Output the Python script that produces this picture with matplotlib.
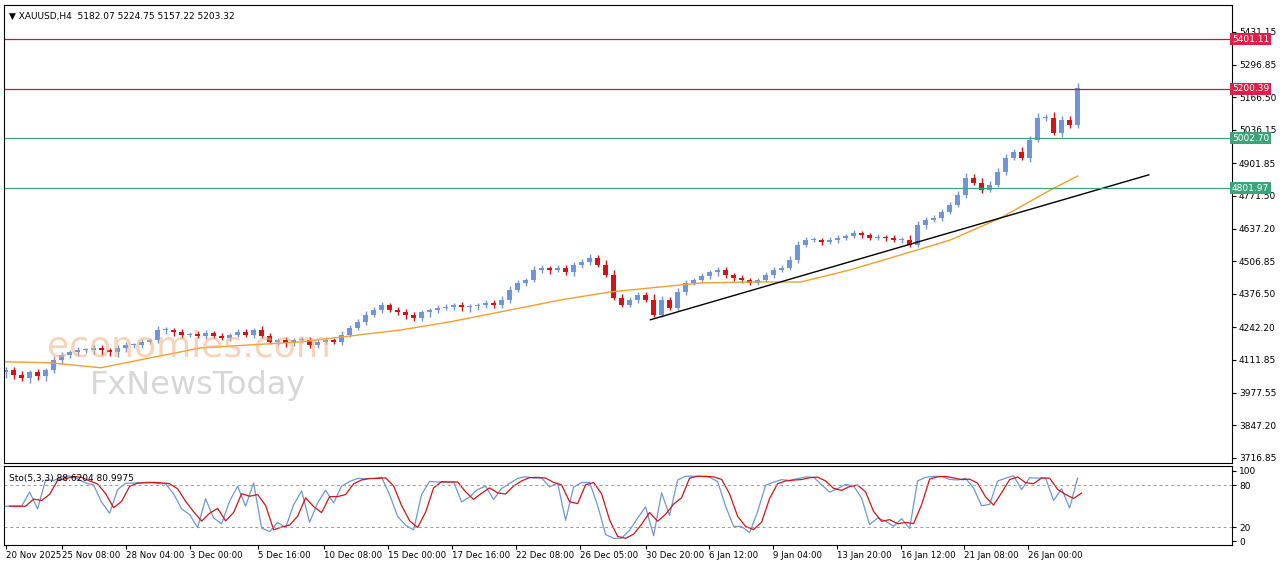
import matplotlib
matplotlib.use("Agg")
import matplotlib.pyplot as plt
import numpy as np

closes = [4071,4051,4038,4063,4046,4071,4111,4131,4143,4151,4151,4159,4151,4143,4159,4171,4171,4183,4191,4231,
4231,4223,4211,4215,4207,4219,4207,4199,4211,4223,4211,4231,4207,4183,4191,4179,4191,4191,4171,4183,
4191,4183,4211,4239,4264,4292,4312,4332,4312,4304,4292,4280,4304,4312,4320,4324,4332,4324,4328,4332,
4340,4332,4352,4392,4420,4432,4473,4481,4473,4481,4465,4493,4505,4521,4493,4453,4360,4332,4352,4372,
4352,4292,4352,4320,4384,4420,4432,4448,4465,4473,4453,4440,4432,4420,4432,4453,4473,4481,4513,4573,
4593,4593,4585,4593,4601,4609,4621,4613,4601,4605,4601,4593,4593,4573,4654,4674,4682,4706,4734,4774,
4842,4822,4794,4814,4867,4923,4947,4923,4995,5084,5084,5023,5076,5055,5203]
wicks = [12,10,14,9,11,8,15,10,9,12,8,10,11,9,13,10,8,12,9,16,
10,9,11,8,12,10,9,11,8,10,12,9,14,10,8,11,9,10,12,8,
10,9,14,12,11,15,13,10,9,11,12,10,9,8,10,11,9,10,8,9,
10,11,14,16,12,10,15,11,9,12,10,13,11,14,12,18,20,16,12,10,
11,22,14,12,15,11,10,12,9,11,10,9,12,10,9,11,12,10,14,16,
12,10,9,11,10,9,12,10,9,11,8,10,12,18,15,11,10,12,13,16,
20,18,22,15,14,16,12,18,15,20,17,22,14,16,22]
ma_idx = [0,5.6,11.9,18.1,24.4,30.6,36.9,43.1,49.4,55.6,61.9,69.4,75.6,80.6,86.9,93.1,99.4,105.6,111.9,118.1,124.4,130.6,134]
ma_val = [4103,4099,4079,4119,4159,4171,4183,4207,4231,4264,4304,4352,4384,4400,4420,4424,4424,4473,4533,4593,4682,4794,4850]
trend_idx = [80.6, 142.9]
trend_val = [4272, 4855]
levels_red = [5401.11, 5200.39]
levels_green = [5002.70, 4801.97]
yticks = [5431.15,5296.85,5166.50,5036.15,4901.85,4771.50,4637.20,4506.85,4376.50,4242.20,4111.85,3977.55,3847.20,3716.85]
tick_idx = [0,7.1,15.1,23.1,31.6,39.75,47.75,55.75,63.75,71.75,80,87.9,95.9,103.9,111.9,119.75,127.75]
tick_labels = ["20 Nov 2025","25 Nov 08:00","28 Nov 04:00","3 Dec 00:00","5 Dec 16:00","10 Dec 08:00",
"15 Dec 00:00","17 Dec 16:00","22 Dec 08:00","26 Dec 05:00","30 Dec 20:00","6 Jan 12:00",
"9 Jan 04:00","13 Jan 20:00","16 Jan 12:00","21 Jan 08:00","26 Jan 00:00"]

n = len(closes)
c = np.array(closes, float)
o = np.concatenate([[4060], c[:-1]])
hi = np.maximum(o, c) + np.array(wicks)
lo = np.minimum(o, c) - np.array(wicks)[::-1]
x = np.arange(n)

W, H = 1280, 567
fig = plt.figure(figsize=(12.8, 5.67), dpi=100)
def rect(l, t, r, b):
    return [l/W, 1-b/H, (r-l)/W, (b-t)/H]
ax = fig.add_axes(rect(4, 5, 1232, 463))
ax2 = fig.add_axes(rect(4, 466, 1232, 545))
x0, x1 = -0.2, 153.3
for a in (ax, ax2):
    a.set_xlim(x0, x1)
    for s in a.spines.values():
        s.set_color("black"); s.set_linewidth(0.8)
    a.yaxis.tick_right()
    a.tick_params(axis='y', labelsize=6.5, length=3, pad=2, colors='black')
ax.set_ylim(3696, 5538)

up, dn = "#6f96dc", "#d41414"
for i in range(n):
    col = up if c[i] >= o[i] else dn
    ax.vlines(x[i], lo[i], hi[i], color=col, lw=1)
    ax.bar(x[i], max(abs(c[i]-o[i]), 2), bottom=min(o[i], c[i]), width=0.6, color=col, edgecolor=col, lw=0)

ax.plot(ma_idx, ma_val, color="#f0a030", lw=1)
ax.plot(trend_idx, trend_val, color="black", lw=1)
for lv in levels_red:
    ax.axhline(lv, color="#b0204a", lw=0.9)
    ax.text(1.0, lv, f"{lv:.2f}", transform=ax.get_yaxis_transform(), fontsize=6.5, color="white",
            va="center", ha="left", bbox=dict(boxstyle="square,pad=0.2", fc="#e0204a", ec="none"), zorder=5)
for lv in levels_green:
    ax.axhline(lv, color="#3aa57a", lw=0.9)
    ax.text(1.0, lv, f"{lv:.2f}", transform=ax.get_yaxis_transform(), fontsize=6.5, color="white",
            va="center", ha="left", bbox=dict(boxstyle="square,pad=0.2", fc="#3aa57a", ec="none"), zorder=5)
ax.set_yticks(yticks)
ax.set_yticklabels([f"{v:.2f}" for v in yticks])
ax.set_xticks([])
ax.text(0.004, 0.985, "▼ XAUUSD,H4  5182.07 5224.75 5157.22 5203.32", transform=ax.transAxes,
        fontsize=6.5, va="top", ha="left")
ax.text(0.035, 0.255, "economies.com", transform=ax.transAxes, fontsize=26, color="#f5b080", alpha=0.55, va="center")
ax.text(0.07, 0.17, "FxNewsToday", transform=ax.transAxes, fontsize=23, color="#b0b0b0", alpha=0.5, va="center")

# stochastic (5,3,3)
k = np.full(n, 50.0)
for i in range(3, n):
    hh, ll = hi[i-3:i+1].max(), lo[i-3:i+1].min()
    k[i] = 100*(c[i]-ll)/(hh-ll)
ds = np.convolve(k, np.ones(2)/2, mode="full")[:n]
ds[0] = k[0]
ax2.plot(x, k, color="#6f96dc", lw=0.9)
ax2.plot(x + 0.5, ds, color="#d41414", lw=0.9)
ax2.set_ylim(-5, 107)
for lv in (80, 20):
    ax2.axhline(lv, color="#999999", lw=0.7, ls=(0, (3, 3)))
ax2.set_yticks([100, 80, 20, 0])
ax2.text(0.004, 0.9, "Sto(5,3,3) 88.6204 80.9975", transform=ax2.transAxes, fontsize=6.5, va="top")
ax2.set_xticks(tick_idx)
ax2.set_xticklabels(tick_labels, fontsize=6.2, ha="left")
ax2.tick_params(axis='x', length=3, pad=1)
fig.savefig("out.png", dpi=100, facecolor="white")
